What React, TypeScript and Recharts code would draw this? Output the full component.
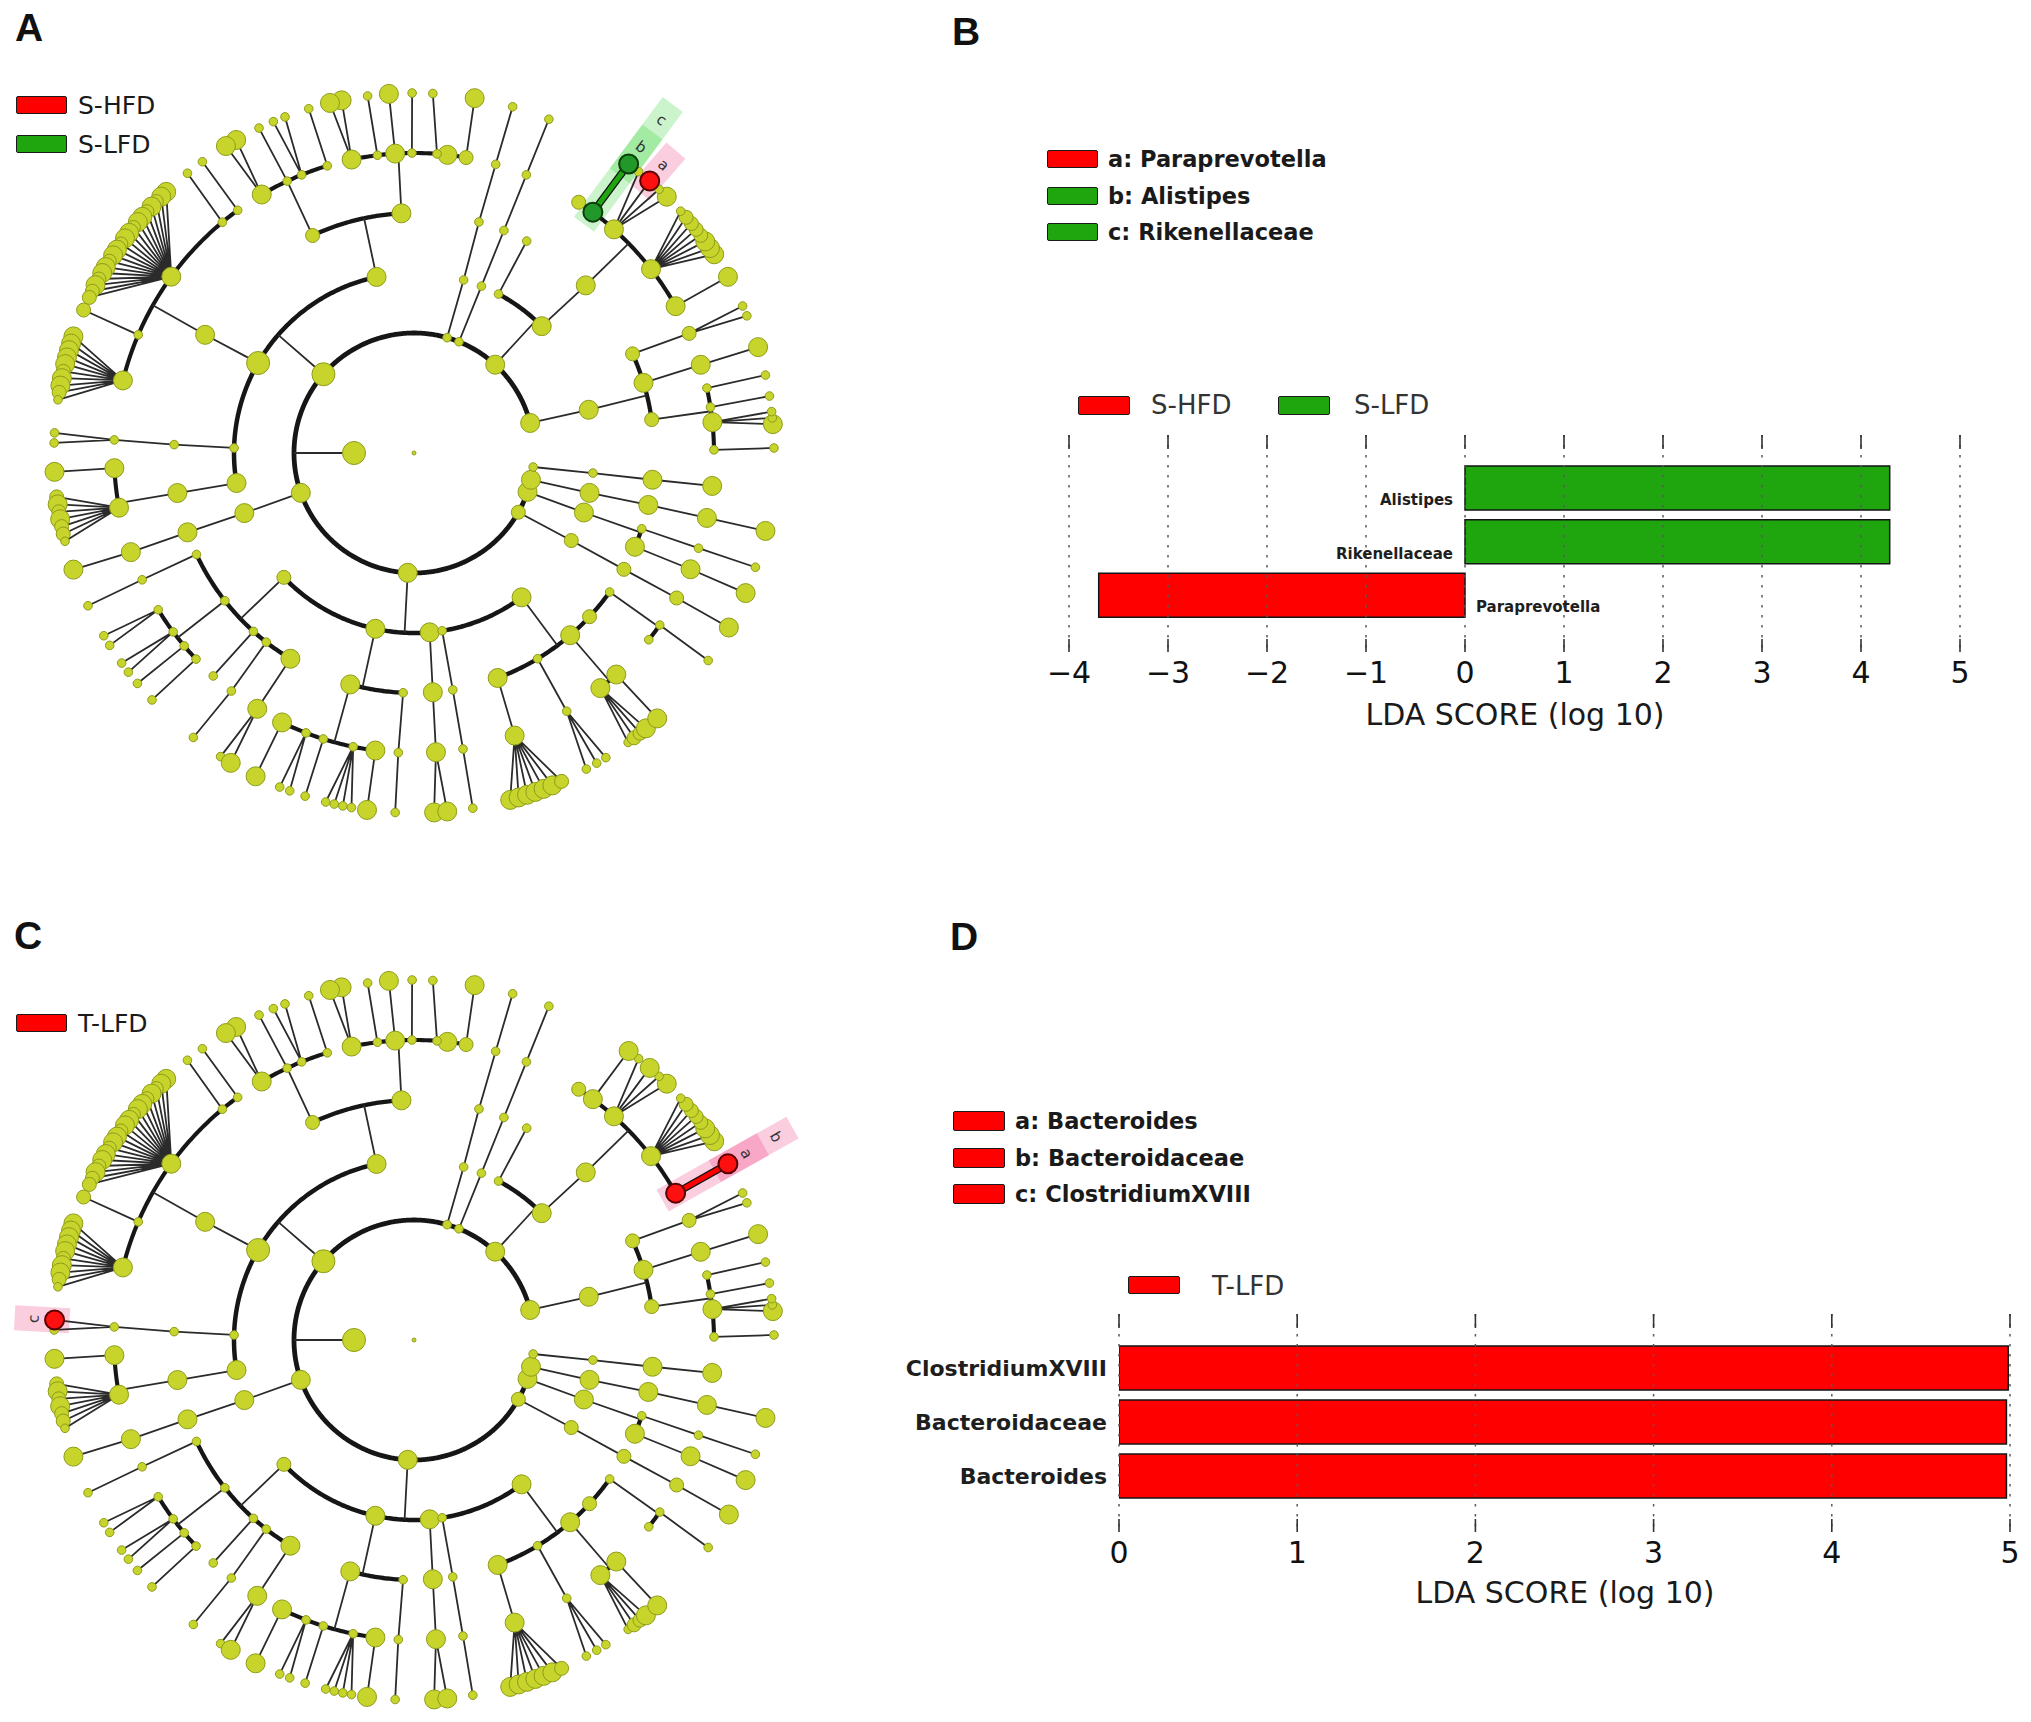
import React from "react";
import {
  ComposedChart,
  Line,
  Scatter,
  XAxis,
  YAxis,
  BarChart,
  Bar,
  Cell,
  LabelList,
  ReferenceLine,
} from "recharts";

// ---------- taxonomy tree (A and C share it) ----------
// node = [angle (deg, counter-clockwise from 3 o'clock), abundance class 1..4, children]
type Taxon = [number, number, Taxon[]?];

const phylum1: Taxon = [14.5, 3, [
  [13.9, 3, [
    [8.0, 2, [
      [0.6, 1, [[0.8, 1]]],
      [5.9, 3, [[4.6, 3], [5.6, 1], [6.6, 1]]],
      [8.8, 1, [[9.1, 1]]],
      [12.5, 1, [[12.5, 1]]],
    ]],
    [17.0, 3, [[17.1, 3, [[17.1, 3]]]]],
    [24.4, 2, [[23.5, 2, [[22.4, 1], [24.1, 1]]]]],
  ]],
]];

const bacteroidetes: Taxon = [47.4, 3, [
  [44.8, 3, [
    [44.3, 3, [
      [29.3, 3, [[29.3, 3]]],
      [37.8, 3, [[33.5, 3], [34.7, 3], [36.0, 3], [37.2, 2], [38.4, 2], [39.6, 2], [40.9, 2], [42.2, 1]]],
      [48.2, 3, [[45.4, 3], [47.1, 1], [49.1, 3], [51.4, 1]]],
      [53.4, 3, [[53.4, 3]]],
      [56.7, 2],
    ]],
  ]],
  [62.0, 1, [[62.0, 1]]],
]];

const phylum3: Taxon = [68.0, 1, [[68.0, 1, [[68.0, 1, [[68.0, 1, [[68.0, 1]]]]]]]]];
const phylum4: Taxon = [74.0, 1, [[74.0, 1, [[74.3, 1, [[74.2, 1, [[74.1, 1]]]]]]]]];

const firmicutes: Taxon = [139.0, 4, [
  [102.0, 3, [
    [93.0, 3, [
      [80.0, 2, [[80.3, 3]]],
      [83.6, 3],
      [85.6, 1, [[87.0, 1]]],
      [90.4, 1, [[90.3, 1]]],
      [93.6, 3, [[94.0, 3]]],
      [97.0, 1, [[97.4, 1]]],
      [102.0, 3, [[101.6, 3], [103.5, 3]]],
    ]],
    [115.0, 2, [
      [106.8, 1, [[107.0, 1]]],
      [112.0, 1, [[111.0, 1], [113.0, 1]]],
      [115.0, 1, [[115.5, 1]]],
      [120.5, 3, [[119.6, 3], [121.5, 3]]],
    ]],
  ]],
  [150.0, 4, [
    [150.5, 3, [
      [126.0, 1, [[126.0, 1]]],
      [129.7, 1, [[129.0, 1]]],
      [144.0, 3, [
        [133.5, 3], [134.6, 3], [135.7, 2], [136.8, 3], [137.9, 2], [139.0, 3], [140.1, 3],
        [141.2, 2], [142.3, 3], [143.4, 3], [144.5, 2], [145.6, 3], [146.7, 3], [147.8, 2],
        [148.9, 3], [150.0, 3], [151.1, 2], [152.2, 3], [153.3, 2], [154.4, 2],
      ]],
      [156.8, 1, [[156.6, 2]]],
      [166.0, 3, [
        [161.1, 3], [162.3, 3], [163.4, 3], [164.6, 3], [165.7, 3],
        [166.9, 2], [168.0, 3], [169.2, 3], [170.3, 2], [171.5, 1],
      ]],
    ]],
  ]],
  [178.4, 1, [[178.0, 1, [[177.5, 1, [[176.8, 1], [178.4, 1]]]]]]],
  [189.6, 3, [[189.6, 3, [
    [182.9, 3, [[183.0, 3]]],
    [190.5, 3, [[187.0, 2], [188.2, 3], [189.4, 2], [190.6, 3], [191.8, 2], [193.0, 2], [194.2, 1]]],
  ]]]],
]];

const phylum6: Taxon = [199.4, 3, [[199.5, 3, [[199.3, 3, [[199.3, 3, [[198.9, 3]]]]]]]]];

const phylum7: Taxon = [267.0, 3, [
  [223.7, 2, [
    [205.0, 1, [[205.0, 1, [[205.1, 1]]]]],
    [218.0, 1, [
      [211.5, 1, [[210.5, 1], [212.3, 1]]],
      [216.6, 1, [[215.7, 1], [217.5, 1]]],
      [220.0, 1, [[219.8, 1]]],
      [223.4, 1, [[223.3, 1]]],
    ]],
    [228.0, 1, [[228.0, 1]]],
    [232.0, 1, [[232.5, 1, [[232.2, 1]]]]],
    [239.0, 3, [[238.5, 3, [[237.5, 1], [239.4, 3]]]]],
  ]],
  [257.6, 3, [
    [254.6, 3, [
      [243.9, 3, [[243.9, 3]]],
      [248.9, 1, [[248.1, 1], [249.8, 1]]],
      [252.4, 1, [[252.4, 1]]],
      [258.3, 1, [[255.8, 1], [257.2, 1], [258.6, 1], [260.0, 1]]],
      [262.6, 3, [[262.5, 3]]],
    ]],
    [267.4, 1, [[267.0, 1, [[267.0, 1]]]]],
  ]],
  [275.0, 3, [[274.5, 3, [[274.2, 3, [[273.2, 3], [275.3, 3]]]]]]],
  [279.0, 1, [[279.3, 1, [[279.4, 1, [[279.4, 1]]]]]]],
  [306.7, 3, [
    [290.4, 3, [[289.6, 3, [[285.5, 3], [286.9, 3], [288.3, 3], [289.7, 3], [291.1, 3], [292.6, 3], [294.2, 2]]]]],
    [301.0, 1, [[300.6, 1, [[298.6, 1], [300.5, 1], [302.2, 1]]]]],
    [310.6, 3, [
      [308.4, 3, [[306.5, 1], [307.7, 2], [308.9, 2], [310.1, 3]]],
      [312.4, 3, [[312.5, 3]]],
    ]],
    [317.0, 2],
    [324.6, 1, [[321.5, 1], [325.0, 1, [[324.8, 1]]]]],
  ]],
]];

const phylum8: Taxon = [330.4, 2, [[330.9, 2, [[331.0, 2, [[331.1, 2, [[331.0, 3]]]]]]]]];
const phylum9: Taxon = [341.1, 3, [[340.7, 3, [
  [337.0, 3, [[337.2, 3, [[337.1, 3]]]]],
  [341.6, 1, [[341.5, 1, [[341.5, 1]]]]],
]]]];
const phylum10: Taxon = [347.1, 3, [[347.2, 3, [[347.5, 3, [[347.5, 3, [[347.5, 3]]]]]]]]];
const phylum11: Taxon = [353.3, 1, [[353.6, 1, [[353.6, 3, [[353.7, 3]]]]]]];

const bacteria: Taxon = [180, 4, [
  phylum1, bacteroidetes, phylum3, phylum4, firmicutes, phylum6,
  phylum7, phylum8, phylum9, phylum10, phylum11,
]];

// highlighted clades: level 5 = family, 6 = genus
type Mark = { letter: string; name: string; group: string; level: number; angle: number };
const marksA: Mark[] = [
  { letter: "a", name: "Paraprevotella", group: "S-HFD", level: 6, angle: 49.1 },
  { letter: "b", name: "Alistipes", group: "S-LFD", level: 6, angle: 53.4 },
  { letter: "c", name: "Rikenellaceae", group: "S-LFD", level: 5, angle: 53.4 },
];
const marksC: Mark[] = [
  { letter: "a", name: "Bacteroides", group: "T-LFD", level: 6, angle: 29.3 },
  { letter: "b", name: "Bacteroidaceae", group: "T-LFD", level: 5, angle: 29.3 },
  { letter: "c", name: "ClostridiumXVIII", group: "T-LFD", level: 6, angle: 176.8 },
];
const groupsA = ["S-HFD", "S-LFD"];
const groupsC = ["T-LFD"];

// ---------- LDA bars ----------
const taxaB = ["Alistipes", "Rikenellaceae", "Paraprevotella"];
const ldaB = [4.29, 4.29, -3.7];
const classB = ["S-LFD", "S-LFD", "S-HFD"];
const ticksB = [-4, -3, -2, -1, 0, 1, 2, 3, 4, 5];

const taxaD = ["ClostridiumXVIII", "Bacteroidaceae", "Bacteroides"];
const ldaD = [4.99, 4.98, 4.98];
const classD = ["T-LFD", "T-LFD", "T-LFD"];
const ticksD = [0, 1, 2, 3, 4, 5];

const COLORS: Record<string, string> = {
  "S-HFD": "#ff0000",
  "S-LFD": "#1fa60f",
  "T-LFD": "#ff0000",
};
const BAND: Record<string, string> = {
  "S-HFD": "rgba(235,30,110,0.22)",
  "S-LFD": "rgba(0,200,0,0.2)",
  "T-LFD": "rgba(235,30,110,0.22)",
};
const NODE_COLOR: Record<string, [string, string]> = {
  "S-HFD": ["#ff1010", "#5a0000"],
  "S-LFD": ["#23982a", "#0c3d0c"],
  "T-LFD": ["#ff1010", "#5a0000"],
};

const FONT = "'DejaVu Sans', 'Open Sans', sans-serif";
const SIZE_PX = [2, 4.3, 7, 9.5, 11.5];
const STEP = 60;
const CX = 414;

type Pt = { x: number; y: number | null };
type NodePt = { x: number; y: number; r: number; level: number; angle: number; parent: number | null };

const polar = (rad: number, deg: number) => {
  const t = (deg * Math.PI) / 180;
  return { x: rad * Math.cos(t), y: rad * Math.sin(t) };
};

function layoutTree(root: Taxon) {
  const nodes: NodePt[] = [{ x: 0, y: 0, r: SIZE_PX[0], level: 0, angle: 0, parent: null }];
  const edges: Pt[] = [];
  const arcs: Pt[][] = [[], [], [], [], [], [], []];
  const walk = (t: Taxon, level: number, parent: number | null) => {
    const [ang, size, kids = []] = t;
    const p = polar(level * STEP, ang);
    nodes.push({ ...p, r: SIZE_PX[size], level, angle: ang, parent });
    if (!kids.length) return;
    const cr = (level + 1) * STEP;
    if (level >= 5 || kids.length === 1) {
      kids.forEach((k) => {
        const q = polar(cr, k[0]);
        edges.push(p, q, { x: q.x, y: null });
      });
    } else {
      const q = polar(cr, ang);
      edges.push(p, q, { x: q.x, y: null });
      const angs = [ang, ...kids.map((k) => k[0])];
      const a0 = Math.min(...angs);
      const a1 = Math.max(...angs);
      const arc = arcs[level + 1];
      for (let a = a0; a < a1; a += 0.5) arc.push(polar(cr, a));
      arc.push(polar(cr, a1), { x: 0, y: null });
    }
    kids.forEach((k) => walk(k, level + 1, ang));
  };
  walk(root, 1, null);
  return { nodes, edges, arcs };
}

const tree = layoutTree(bacteria);
const ARC_W = [0, 0, 4.8, 4.5, 4.3, 4.1];

const nodeShape = (p: any) => (
  <circle cx={p.cx} cy={p.cy} r={p.payload.r} fill="#c6d42b" stroke="#8f9c1a" strokeWidth={1} />
);

function Cladogram({ marks, top, height, centerY }: { marks: Mark[]; top: number; height: number; centerY: number }) {
  const width = 850;
  const yTop = centerY - top;
  const found = marks.map((m) => ({
    m,
    n: tree.nodes.find((n) => n.level === m.level && Math.abs(n.angle - m.angle) < 0.01)!,
  }));
  const hiNodes = found.map(({ m, n }) => ({ x: n.x, y: n.y, r: Math.max(n.r, 9.5), group: m.group }));
  const hiEdges = found
    .filter(({ m, n }) => marks.some((o) => o.level === m.level - 1 && o.angle === n.parent))
    .map(({ m, n }) => ({ group: m.group, pts: [polar((m.level - 1) * STEP, n.parent as number), { x: n.x, y: n.y }] }));
  const bands = [...found]
    .sort((a, b) => a.m.level - b.m.level)
    .map(({ m }) => {
      const end = m.level === 6 ? 400 : 434;
      return {
        group: m.group,
        pts: [polar(m.level * STEP - 15, m.angle), polar(end, m.angle)],
        label: { ...polar(end - 19, m.angle), letter: m.letter, angle: m.angle },
      };
    });

  return (
    <div style={{ position: "absolute", left: 0, top }}>
      <ComposedChart width={width} height={height} margin={{ top: 0, right: 0, bottom: 0, left: 0 }}>
        <XAxis type="number" dataKey="x" domain={[-CX, width - CX]} hide allowDataOverflow />
        <YAxis type="number" dataKey="y" domain={[-(height - yTop), yTop]} hide allowDataOverflow />
        {bands.map((b, i) => (
          <Line key={"band" + i} data={b.pts} dataKey="y" type="linear" stroke={BAND[b.group]}
            strokeWidth={25} strokeLinecap="butt" dot={false} activeDot={false} isAnimationActive={false} />
        ))}
        {[2, 3, 4, 5].map((lv) => (
          <Line key={"arc" + lv} data={tree.arcs[lv]} dataKey="y" type="linear" stroke="#161616"
            strokeWidth={ARC_W[lv]} dot={false} activeDot={false} connectNulls={false} isAnimationActive={false} />
        ))}
        <Line data={tree.edges} dataKey="y" type="linear" stroke="#2b2b2b" strokeWidth={1.8}
          dot={false} activeDot={false} connectNulls={false} isAnimationActive={false} />
        {hiEdges.map((e, i) => (
          <Line key={"hoe" + i} data={e.pts} dataKey="y" type="linear" stroke="#111" strokeWidth={7.5}
            dot={false} activeDot={false} isAnimationActive={false} />
        ))}
        {hiEdges.map((e, i) => (
          <Line key={"hie" + i} data={e.pts} dataKey="y" type="linear" stroke={COLORS[e.group]} strokeWidth={5}
            dot={false} activeDot={false} isAnimationActive={false} />
        ))}
        <Scatter data={tree.nodes} shape={nodeShape} isAnimationActive={false} />
        <Scatter
          data={hiNodes}
          isAnimationActive={false}
          shape={(p: any) => (
            <circle cx={p.cx} cy={p.cy} r={p.payload.r} fill={NODE_COLOR[p.payload.group][0]}
              stroke={NODE_COLOR[p.payload.group][1]} strokeWidth={2} />
          )}
        />
        <Scatter
          data={bands.map((b) => b.label)}
          isAnimationActive={false}
          shape={(p: any) => (
            <text x={p.cx} y={p.cy} textAnchor="middle" dominantBaseline="central" fontSize={15}
              fontFamily={FONT} fill="#333" transform={`rotate(${90 - p.payload.angle} ${p.cx} ${p.cy})`}>
              {p.payload.letter}
            </text>
          )}
        />
      </ComposedChart>
    </div>
  );
}

// grid line: dotted, with solid ticks at both ends (matplotlib style)
const gridShape = (p: any) => {
  const y0 = Math.min(p.y1, p.y2);
  const y1 = Math.max(p.y1, p.y2);
  return (
    <g>
      <line x1={p.x1} x2={p.x1} y1={y0} y2={y1} stroke="#5a5a5a" strokeWidth={1.5} strokeDasharray="2.5 7.5" />
      <line x1={p.x1} x2={p.x1} y1={y0} y2={y0 + 14} stroke="#333" strokeWidth={1.6} />
      <line x1={p.x1} x2={p.x1} y1={y1 - 13} y2={y1} stroke="#333" strokeWidth={1.6} />
    </g>
  );
};

const minus = (v: number) => (v < 0 ? "\u2212" + Math.abs(v) : String(v));

function LdaBars(props: {
  taxa: string[]; lda: number[]; cls: string[]; ticks: number[];
  left: number; top: number; width: number; height: number;
  margin: { top: number; right: number; bottom: number; left: number };
  pad: { top: number; bottom: number }; labelSize: number; labelAtBottom: boolean;
}) {
  const { taxa, lda, cls, ticks } = props;
  const data = taxa.map((name, i) => ({ name, lda: lda[i] }));
  const renderLabel = (p: any) => {
    const vb = p.viewBox || p;
    const i = p.index;
    const lo = Math.min(vb.x, vb.x + vb.width);
    const hi = Math.max(vb.x, vb.x + vb.width);
    const pos = lda[i] >= 0;
    const zero = pos ? lo : hi;
    const top = Math.min(vb.y, vb.y + vb.height);
    const h = Math.abs(vb.height);
    const y = props.labelAtBottom ? top + h - 5 : top + h / 2 + props.labelSize * 0.36;
    return (
      <text x={pos ? zero - 12 : zero + 11} y={y} textAnchor={pos ? "end" : "start"}
        fontSize={props.labelSize} fontFamily={FONT} fontWeight="bold" fill="#1e1e1e">
        {taxa[i]}
      </text>
    );
  };
  return (
    <div style={{ position: "absolute", left: props.left, top: props.top }}>
      <BarChart layout="vertical" width={props.width} height={props.height} data={data}
        margin={props.margin} barSize={44}>
        <XAxis type="number" domain={[ticks[0], ticks[ticks.length - 1]]} ticks={ticks} interval={0}
          allowDataOverflow height={100} axisLine={false} tickLine={false} tickMargin={4}
          tickFormatter={minus} tick={{ fontSize: 30, fill: "#111", fontFamily: FONT }} />
        <YAxis type="category" dataKey="name" hide padding={props.pad} />
        <Bar dataKey="lda" stroke="#151515" strokeWidth={1.5} isAnimationActive={false}>
          {data.map((d, i) => (
            <Cell key={d.name} fill={COLORS[cls[i]]} />
          ))}
          <LabelList dataKey="name" content={renderLabel} />
        </Bar>
        {ticks.map((t) => (
          <ReferenceLine key={t} x={t} shape={gridShape} />
        ))}
      </BarChart>
    </div>
  );
}

const Txt = ({ x, y, size, children, color = "#1a1a1a", bold = false, family = FONT, center = false }: any) => (
  <div
    style={{
      position: "absolute", left: x, top: y, fontSize: size, lineHeight: 1, whiteSpace: "nowrap",
      fontFamily: family, fontWeight: bold ? "bold" : "normal", color,
      transform: center ? "translate(-50%, -50%)" : "translateY(-50%)",
    }}
  >
    {children}
  </div>
);

const Swatch = ({ x, y, w = 51, h = 18, color }: any) => (
  <div style={{
    position: "absolute", left: x, top: y, width: w, height: h, background: color,
    border: "1.6px solid #1a1a1a", boxSizing: "border-box", borderRadius: 2,
  }} />
);

const LETTER = "'Liberation Sans', Arial, sans-serif";

export default function App() {
  return (
    <div style={{ position: "absolute", left: 0, top: 0, width: 2031, height: 1722, overflow: "hidden", background: "#fff" }}>
      <Cladogram marks={marksA} top={40} height={830} centerY={453} />
      <Cladogram marks={marksC} top={925} height={797} centerY={1340} />

      <Txt x={29} y={27} size={39} bold family={LETTER} color="#111" center>A</Txt>
      <Txt x={966} y={31} size={39} bold family={LETTER} color="#111" center>B</Txt>
      <Txt x={28} y={935} size={39} bold family={LETTER} color="#111" center>C</Txt>
      <Txt x={964} y={936} size={39} bold family={LETTER} color="#111" center>D</Txt>

      {groupsA.map((g, i) => (
        <React.Fragment key={g}>
          <Swatch x={16} y={96 + i * 39} color={COLORS[g]} />
          <Txt x={78} y={105 + i * 39} size={25}>{g}</Txt>
        </React.Fragment>
      ))}
      {groupsC.map((g, i) => (
        <React.Fragment key={g}>
          <Swatch x={16} y={1014 + i * 39} color={COLORS[g]} />
          <Txt x={78} y={1023 + i * 39} size={25}>{g}</Txt>
        </React.Fragment>
      ))}

      {marksA.map((m, i) => (
        <React.Fragment key={m.letter}>
          <Swatch x={1047} y={150 + i * 36.5} color={COLORS[m.group]} />
          <Txt x={1108} y={159 + i * 36.5} size={22.5} bold>{m.letter + ": " + m.name}</Txt>
        </React.Fragment>
      ))}
      {groupsA.map((g, i) => (
        <React.Fragment key={g}>
          <Swatch x={1078 + i * 200} y={396} w={52} h={19} color={COLORS[g]} />
          <Txt x={1151 + i * 203} y={405} size={26} color="#333">{g}</Txt>
        </React.Fragment>
      ))}
      <LdaBars taxa={taxaB} lda={ldaB} cls={classB} ticks={ticksB}
        left={1029} top={425} width={971} height={327}
        margin={{ top: 10, right: 40, bottom: 0, left: 40 }} pad={{ top: 26, bottom: 30 }}
        labelSize={15} labelAtBottom />
      <Txt x={1515} y={715} size={30} center>LDA SCORE (log 10)</Txt>

      {marksC.map((m, i) => (
        <React.Fragment key={m.letter}>
          <Swatch x={953} y={1111 + i * 36.5} w={52} h={20} color={COLORS[m.group]} />
          <Txt x={1015} y={1121 + i * 36.5} size={22.5} bold>{m.letter + ": " + m.name}</Txt>
        </React.Fragment>
      ))}
      {groupsC.map((g) => (
        <React.Fragment key={g}>
          <Swatch x={1128} y={1276} w={52} h={18} color={COLORS[g]} />
          <Txt x={1212} y={1286} size={26} color="#333">{g}</Txt>
        </React.Fragment>
      ))}
      <LdaBars taxa={taxaD} lda={ldaD} cls={classD} ticks={ticksD}
        left={859} top={1304} width={1171} height={328}
        margin={{ top: 10, right: 20, bottom: 0, left: 260 }} pad={{ top: 27, bottom: 29 }}
        labelSize={22} labelAtBottom={false} />
      <Txt x={1565} y={1593} size={30} center>LDA SCORE (log 10)</Txt>
    </div>
  );
}
